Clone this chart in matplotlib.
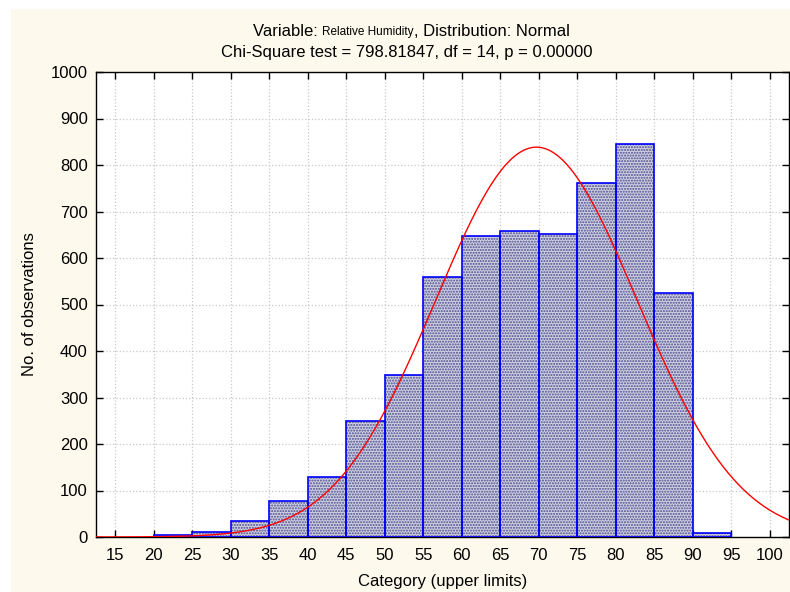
import numpy as np
import matplotlib.pyplot as plt
from matplotlib.patches import Rectangle
from matplotlib.offsetbox import TextArea, HPacker, AnchoredOffsetbox

plt.rcParams['font.family'] = ['Liberation Sans', 'DejaVu Sans']
plt.rcParams['hatch.linewidth'] = 1.0

# histogram data: lower edge of each 5-unit class and its count
# (classes 15-20 and 95-100 are empty)
bin_lower = [20, 25, 30, 35, 40, 45, 50, 55, 60, 65, 70, 75, 80, 85, 90]
counts = [4, 10, 34, 77, 129, 249, 348, 559, 647, 658, 652, 761, 845, 525, 8]
bin_width = 5

# fitted normal curve parameters
fit_mean = 69.7
fit_sd = 13.1
n_obs = sum(counts)

x_ticks = [15, 20, 25, 30, 35, 40, 45, 50, 55, 60, 65, 70, 75, 80, 85, 90, 95, 100]
y_ticks = [0, 100, 200, 300, 400, 500, 600, 700, 800, 900, 1000]

fig = plt.figure(figsize=(7.9, 5.92), dpi=100)
fig.patch.set_facecolor('white')
# cream panel behind the chart
fig.patches.append(Rectangle((11 / 790, 0), 1, 1 - 9 / 592, transform=fig.transFigure,
                             facecolor='#fdf9ec', edgecolor='none', zorder=-10))

ax = fig.add_axes([96 / 790, 1 - 537 / 592, (789 - 96) / 790, (537 - 72) / 592])
ax.set_facecolor('white')

# dotted fill first, then blue outlines
ax.bar(bin_lower, counts, width=bin_width, align='edge', color='#cfd0e2',
       edgecolor='#4a4c8c', hatch='......', linewidth=0, zorder=2)
ax.bar(bin_lower, counts, width=bin_width, align='edge', fill=False,
       edgecolor='#0000ff', linewidth=1.2, zorder=3)

xs = np.linspace(12.5, 102.5, 400)
curve = n_obs * bin_width / (fit_sd * np.sqrt(2 * np.pi)) * np.exp(-0.5 * ((xs - fit_mean) / fit_sd) ** 2)
ax.plot(xs, curve, color='#ff0000', linewidth=1.0, zorder=4)

ax.set_xlim(12.5, 102.5)
ax.set_ylim(0, 1000)
ax.set_xticks(x_ticks)
ax.set_yticks(y_ticks)
ax.grid(True, color='#c8c8c8', linestyle=':', linewidth=0.9, zorder=0)
ax.set_axisbelow(True)
ax.tick_params(direction='in', length=5, width=1, top=True, right=True,
               labelsize=12, pad=8)
ax.tick_params(axis='y', pad=6)
for s in ax.spines.values():
    s.set_linewidth(1.0)
    s.set_color('black')

ax.set_xlabel('Category (upper limits)', fontsize=12, labelpad=8)
ax.set_ylabel('No. of observations', fontsize=12, labelpad=10)

# two-line title, first line with a smaller variable name
line1 = HPacker(children=[TextArea('Variable: ', textprops=dict(size=12)),
                          TextArea('Relative Humidity', textprops=dict(size=8.5)),
                          TextArea(', Distribution: Normal', textprops=dict(size=12))],
                align='baseline', pad=0, sep=0)
box = AnchoredOffsetbox(loc='center', child=line1, bbox_to_anchor=(411 / 790, 1 - 31 / 592),
                        bbox_transform=fig.transFigure, frameon=False, pad=0, borderpad=0)
fig.add_artist(box)
fig.text(407 / 790, 1 - 52 / 592, 'Chi-Square test = 798.81847, df = 14, p = 0.00000',
         ha='center', va='center', fontsize=12)

fig.savefig('out.png', dpi=100)
